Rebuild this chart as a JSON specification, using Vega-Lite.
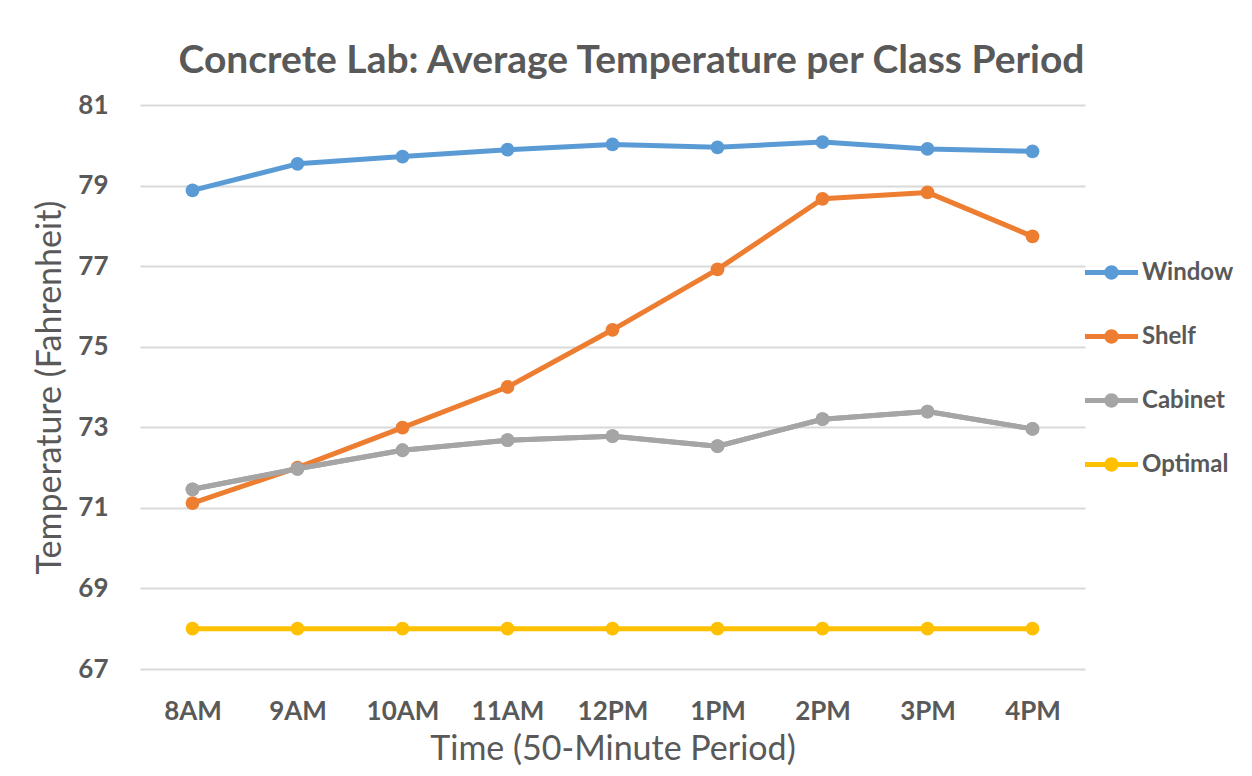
{
  "$schema": "https://vega.github.io/schema/vega-lite/v6.json",
  "autosize": {"type": "none"},
  "padding": {"left": 140, "top": 105, "right": 167, "bottom": 107},
  "width": 945,
  "height": 564,
  "background": "white",
  "config": {"view": {"stroke": null}},
  "title": {
    "text": "Concrete Lab: Average Temperature per Class Period",
    "font": "Lato",
    "fontSize": 39,
    "fontWeight": "bold",
    "color": "#595959",
    "anchor": "middle",
    "dx": 19,
    "offset": 11
  },
  "data": {
    "values": [
      {"time": "8AM", "series": "Window", "temp": 78.88},
      {"time": "9AM", "series": "Window", "temp": 79.54},
      {"time": "10AM", "series": "Window", "temp": 79.72},
      {"time": "11AM", "series": "Window", "temp": 79.89},
      {"time": "12PM", "series": "Window", "temp": 80.02},
      {"time": "1PM", "series": "Window", "temp": 79.95},
      {"time": "2PM", "series": "Window", "temp": 80.08},
      {"time": "3PM", "series": "Window", "temp": 79.91},
      {"time": "4PM", "series": "Window", "temp": 79.85},
      {"time": "8AM", "series": "Shelf", "temp": 71.12},
      {"time": "9AM", "series": "Shelf", "temp": 72.0},
      {"time": "10AM", "series": "Shelf", "temp": 72.99},
      {"time": "11AM", "series": "Shelf", "temp": 74.0},
      {"time": "12PM", "series": "Shelf", "temp": 75.42},
      {"time": "1PM", "series": "Shelf", "temp": 76.92},
      {"time": "2PM", "series": "Shelf", "temp": 78.67},
      {"time": "3PM", "series": "Shelf", "temp": 78.83},
      {"time": "4PM", "series": "Shelf", "temp": 77.74},
      {"time": "8AM", "series": "Cabinet", "temp": 71.46},
      {"time": "9AM", "series": "Cabinet", "temp": 71.97},
      {"time": "10AM", "series": "Cabinet", "temp": 72.43},
      {"time": "11AM", "series": "Cabinet", "temp": 72.68},
      {"time": "12PM", "series": "Cabinet", "temp": 72.78},
      {"time": "1PM", "series": "Cabinet", "temp": 72.53},
      {"time": "2PM", "series": "Cabinet", "temp": 73.2},
      {"time": "3PM", "series": "Cabinet", "temp": 73.39},
      {"time": "4PM", "series": "Cabinet", "temp": 72.96},
      {"time": "8AM", "series": "Optimal", "temp": 68},
      {"time": "9AM", "series": "Optimal", "temp": 68},
      {"time": "10AM", "series": "Optimal", "temp": 68},
      {"time": "11AM", "series": "Optimal", "temp": 68},
      {"time": "12PM", "series": "Optimal", "temp": 68},
      {"time": "1PM", "series": "Optimal", "temp": 68},
      {"time": "2PM", "series": "Optimal", "temp": 68},
      {"time": "3PM", "series": "Optimal", "temp": 68},
      {"time": "4PM", "series": "Optimal", "temp": 68}
    ]
  },
  "encoding": {
    "x": {
      "field": "time",
      "type": "ordinal",
      "sort": ["8AM", "9AM", "10AM", "11AM", "12PM", "1PM", "2PM", "3PM", "4PM"],
      "scale": {"type": "point", "padding": 0.5},
      "axis": {
        "title": "Time (50-Minute Period)",
        "labelAngle": 0,
        "labelFont": "Lato",
        "labelFontSize": 26,
        "labelFontWeight": "bold",
        "labelColor": "#595959",
        "labelPadding": 29,
        "ticks": false,
        "domain": false,
        "grid": false,
        "titleFont": "Lato",
        "titleFontSize": 34,
        "titleFontWeight": "normal",
        "titleColor": "#595959",
        "titlePadding": 8
      }
    },
    "y": {
      "field": "temp",
      "type": "quantitative",
      "scale": {"domain": [67, 81], "zero": false, "nice": false},
      "axis": {
        "title": "Temperature (Fahrenheit)",
        "values": [67, 69, 71, 73, 75, 77, 79, 81],
        "labelFont": "Lato",
        "labelFontSize": 26,
        "labelFontWeight": "bold",
        "labelColor": "#595959",
        "labelPadding": 32,
        "ticks": false,
        "domain": false,
        "grid": true,
        "gridColor": "#d9d9d9",
        "gridWidth": 2,
        "titleFont": "Lato",
        "titleFontSize": 34,
        "titleFontWeight": "normal",
        "titleColor": "#595959",
        "titlePadding": 10
      }
    },
    "color": {
      "field": "series",
      "type": "nominal",
      "scale": {
        "domain": ["Window", "Shelf", "Cabinet", "Optimal"],
        "range": ["#5B9BD5", "#ED7D31", "#A5A5A5", "#FFC000"]
      },
      "legend": {
        "title": null,
        "orient": "none",
        "legendX": 945,
        "legendY": 141,
        "padding": 0,
        "symbolType": "M-1,-0.09H1V0.09H-1Z M-0.27,0A0.27,0.27 0 1,1 0.27,0A0.27,0.27 0 1,1 -0.27,0Z",
        "symbolSize": 2809,
        "symbolStrokeWidth": 0,
        "labelFont": "Lato",
        "labelFontSize": 24,
        "labelFontWeight": "bold",
        "labelColor": "#595959",
        "labelOffset": 4,
        "rowPadding": 25,
        "encode": {
          "symbols": {
            "update": {
              "fill": {"scale": "color", "field": "value"},
              "stroke": {"value": "transparent"},
              "opacity": {"value": 1}
            }
          }
        }
      }
    }
  },
  "layer": [
    {
      "mark": {"type": "line", "strokeWidth": 5, "strokeCap": "round", "strokeJoin": "round"}
    },
    {
      "mark": {"type": "point", "filled": true, "opacity": 1, "size": 190}
    },
    {
      "transform": [{"filter": "datum.series === 'Cabinet'"}],
      "mark": {"type": "line", "strokeWidth": 5, "strokeCap": "round", "strokeJoin": "round"}
    },
    {
      "transform": [{"filter": "datum.series === 'Cabinet'"}],
      "mark": {"type": "point", "filled": true, "opacity": 1, "size": 190}
    }
  ]
}
